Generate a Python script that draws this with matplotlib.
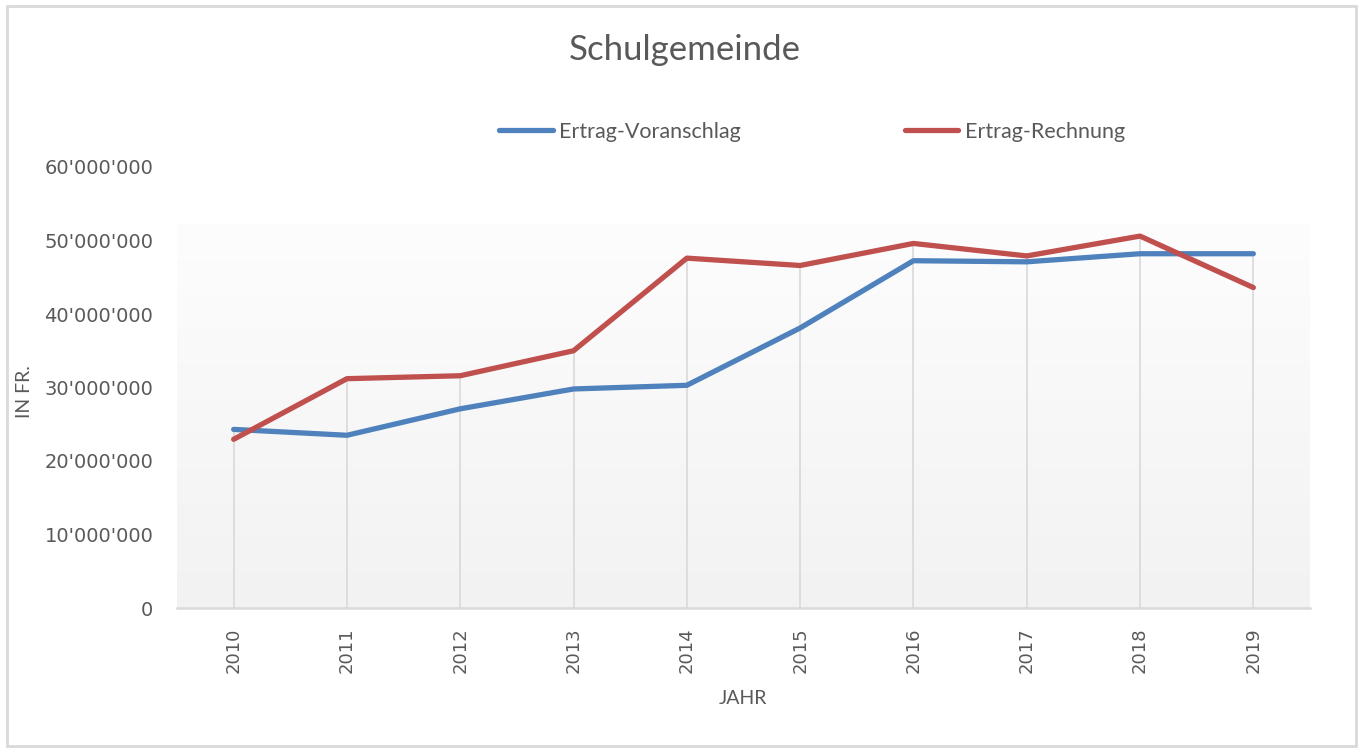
import numpy as np
import matplotlib
matplotlib.use('Agg')
import matplotlib.pyplot as plt
from matplotlib.colors import LinearSegmentedColormap
from matplotlib.patches import Rectangle
from matplotlib.ticker import FuncFormatter

# Daten Schulgemeinde
jahre = ['2010', '2011', '2012', '2013', '2014', '2015', '2016', '2017', '2018', '2019']
ertrag_voranschlag = [24.3e6, 23.5e6, 27.1e6, 29.8e6, 30.3e6, 38.1e6, 47.25e6, 47.1e6, 48.2e6, 48.2e6]
ertrag_rechnung = [22.95e6, 31.2e6, 31.6e6, 35.0e6, 47.6e6, 46.6e6, 49.6e6, 47.9e6, 50.6e6, 43.6e6]

grau_text = '#595959'
grau_linie = '#d9d9d9'
schmal = ['Lato', 'DejaVu Sans']

fig = plt.figure(figsize=(13.63, 7.52), dpi=100)
fig.patches.append(Rectangle((0.005, 0.008), 0.99, 0.984, transform=fig.transFigure,
                             fill=False, edgecolor=grau_linie, linewidth=2))

ax = fig.add_axes([177 / 1363, 1 - 608 / 752, (1310 - 177) / 1363, (608 - 167) / 752])
ax.set_facecolor('none')
x = np.arange(len(jahre))

# Hintergrund mit Verlauf (unten grau, oben weiss)
verlauf = LinearSegmentedColormap.from_list('verlauf', ['#f2f2f2', '#fdfdfd'])
ax.imshow(np.linspace(0, 1, 256).reshape(-1, 1), cmap=verlauf, origin='lower',
          extent=(-0.5, 9.5, 0, 52.2e6), aspect='auto', zorder=0)

# Lotlinien bis zum hoechsten Wert
spitzen = np.maximum(ertrag_voranschlag, ertrag_rechnung)
ax.vlines(x, 0, spitzen, color=grau_linie, linewidth=1.2, zorder=1)

ax.plot(x, ertrag_voranschlag, color='#4f81bd', linewidth=3.8, solid_capstyle='round',
        solid_joinstyle='round', label='Ertrag-Voranschlag', zorder=3)
ax.plot(x, ertrag_rechnung, color='#c0504d', linewidth=3.8, solid_capstyle='round',
        solid_joinstyle='round', label='Ertrag-Rechnung', zorder=3)

ax.set_xlim(-0.5, 9.5)
ax.set_ylim(0, 60e6)
ax.set_yticks(np.arange(0, 60e6 + 1, 10e6))
ax.yaxis.set_major_formatter(FuncFormatter(lambda v, p: f"{int(v):,}".replace(',', "'")))
ax.set_xticks(x)
ax.set_xticklabels(jahre, rotation=90)
ax.tick_params(axis='y', length=0, pad=17, labelsize=14, labelcolor=grau_text)
ax.tick_params(axis='x', length=0, pad=14, labelsize=13, labelcolor=grau_text)

for s in ['top', 'right', 'left']:
    ax.spines[s].set_visible(False)
ax.spines['bottom'].set_color(grau_linie)
ax.spines['bottom'].set_linewidth(1.8)

fig.text(685 / 1363, 1 - 50 / 752, 'Schulgemeinde', ha='center', va='center',
         fontsize=25, color=grau_text, family=schmal)
fig.text(743 / 1363, 1 - 698 / 752, 'JAHR', ha='center', va='center',
         fontsize=14, color=grau_text, family=schmal)
fig.text(25 / 1363, 1 - 392 / 752, 'IN FR.', ha='center', va='center', rotation=90,
         fontsize=14, color=grau_text, family=schmal)

leg = ax.legend(loc='center', bbox_to_anchor=(812 / 1363, 1 - 132 / 752),
                bbox_transform=fig.transFigure, ncol=2, frameon=False,
                handlelength=2.5, handletextpad=0.3, columnspacing=7.6,
                prop={'family': schmal, 'size': 15.5})
for t in leg.get_texts():
    t.set_color(grau_text)

fig.savefig('out.png', dpi=100)
